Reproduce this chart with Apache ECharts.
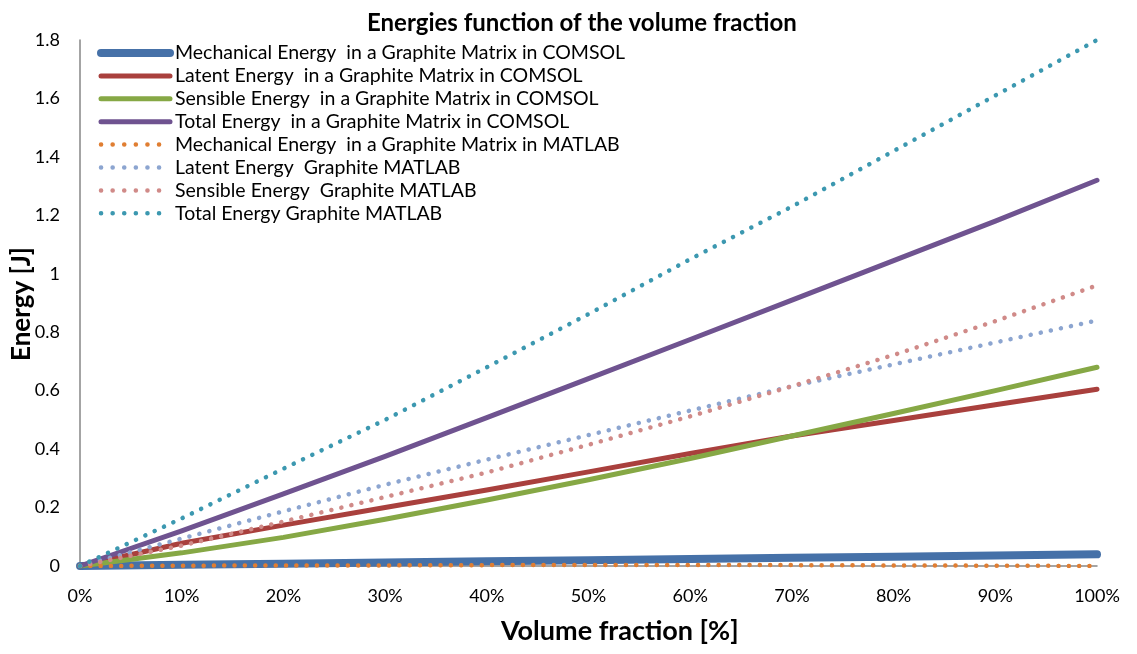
<!DOCTYPE html>
<html>
<head>
<meta charset="utf-8">
<script src="https://cdn.jsdelivr.net/npm/echarts@6/dist/echarts.min.js"></script>
<style>
  html, body { margin: 0; padding: 0; background: #fff; }
  #chart { width: 1137px; height: 654px; }
</style>
</head>
<body>
<div id="chart"></div>
<script>
// Volume fraction (0..1) shared by every series
const volumeFraction = [0, 0.1, 0.2, 0.3, 0.4, 0.5, 0.6, 0.7, 0.8, 0.9, 1.0];

// COMSOL results [J]
const mechComsol     = [0, 0.004, 0.008, 0.012, 0.016, 0.020, 0.024, 0.028, 0.032, 0.036, 0.040];
const latentComsol   = [0, 0.078, 0.140, 0.200, 0.260, 0.322, 0.385, 0.445, 0.498, 0.552, 0.605];
const sensibleComsol = [0, 0.045, 0.098, 0.160, 0.226, 0.295, 0.368, 0.445, 0.522, 0.600, 0.680];
const totalComsol    = [0, 0.120, 0.247, 0.375, 0.508, 0.641, 0.775, 0.910, 1.045, 1.180, 1.320];

// MATLAB results [J]
const mechMatlab     = [0, 0.001, 0.002, 0.002, 0.003, 0.003, 0.003, 0.003, 0.002, 0.001, 0.000];
const latentMatlab   = [0, 0.094, 0.187, 0.278, 0.364, 0.448, 0.532, 0.615, 0.690, 0.765, 0.840];
const sensibleMatlab = [0, 0.070, 0.152, 0.236, 0.320, 0.415, 0.512, 0.615, 0.722, 0.838, 0.960];
const totalMatlab    = [0, 0.163, 0.333, 0.500, 0.680, 0.862, 1.050, 1.230, 1.420, 1.610, 1.800];

const seriesNames = [
  'Mechanical Energy  in a Graphite Matrix in COMSOL',
  'Latent Energy  in a Graphite Matrix in COMSOL',
  'Sensible Energy  in a Graphite Matrix in COMSOL',
  'Total Energy  in a Graphite Matrix in COMSOL',
  'Mechanical Energy  in a Graphite Matrix in MATLAB',
  'Latent Energy  Graphite MATLAB',
  'Sensible Energy  Graphite MATLAB',
  'Total Energy Graphite MATLAB'
];
const seriesValues = [mechComsol, latentComsol, sensibleComsol, totalComsol,
                      mechMatlab, latentMatlab, sensibleMatlab, totalMatlab];
const seriesColors = ['#4671A8', '#A9403D', '#86A845', '#6F5390',
                      '#E07E32', '#8CA5D0', '#D08A88', '#3C98B0'];
const solidWidths = [8, 5, 5, 5];

const FONT = 'Lato, "Open Sans", sans-serif';

function isDotted(i) { return i >= 4; }

const series = seriesNames.map((name, i) => ({
  name: name,
  type: 'line',
  data: volumeFraction.map((x, k) => [x, seriesValues[i][k]]),
  symbol: 'none',
  showSymbol: false,
  color: seriesColors[i],
  lineStyle: isDotted(i)
    ? { color: seriesColors[i], width: 4.5, type: [0.1, 10.2], cap: 'round' }
    : { color: seriesColors[i], width: solidWidths[i], cap: 'round', join: 'round' },
  emphasis: { disabled: true },
  animation: false
}));

// legend keys: plain line samples, no marker
const legendData = seriesNames.map((name, i) => ({
  name: name,
  itemStyle: { opacity: 0, color: 'rgba(0,0,0,0)', borderWidth: 0 },
  lineStyle: isDotted(i)
    ? { color: seriesColors[i], width: 4.5, type: [0.1, 11.5], cap: 'round', opacity: 1 }
    : { color: seriesColors[i], width: solidWidths[i], type: 'solid', cap: 'round', opacity: 1 }
}));

const chart = echarts.init(document.getElementById('chart'), null, { renderer: 'canvas' });
chart.setOption({
  backgroundColor: '#ffffff',
  animation: false,
  title: {
    text: 'Energies function of the volume fraction',
    left: 362,
    top: 6,
    textStyle: { fontFamily: FONT, fontWeight: 'bold', fontSize: 24, color: '#000' }
  },
  grid: { left: 80, right: 40, top: 40, bottom: 88, containLabel: false },
  legend: {
    orient: 'vertical',
    left: 92,
    top: 38,
    itemWidth: 69,
    itemHeight: 14,
    itemGap: 2.9,
    selectedMode: false,
    textStyle: { fontFamily: FONT, fontSize: 19.5, color: '#000' },
    data: legendData
  },
  xAxis: {
    type: 'value',
    min: 0,
    max: 1,
    interval: 0.1,
    axisLine: { show: true, lineStyle: { color: '#868686', width: 1.5 } },
    axisTick: { show: false },
    splitLine: { show: false },
    axisLabel: {
      margin: 21,
      fontFamily: FONT,
      fontSize: 18,
      color: '#000',
      formatter: v => Math.round(v * 100) + '%'
    }
  },
  yAxis: {
    type: 'value',
    min: 0,
    max: 1.8,
    interval: 0.2,
    axisLine: { show: true, lineStyle: { color: '#868686', width: 1.5 } },
    axisTick: { show: false },
    splitLine: { show: false },
    axisLabel: {
      margin: 20,
      fontFamily: FONT,
      fontSize: 18,
      color: '#000',
      formatter: v => String(Math.round(v * 10) / 10)
    }
  },
  graphic: [
    {
      type: 'text',
      left: 501,
      top: 618,
      style: {
        text: 'Volume fraction [%]',
        fontFamily: FONT,
        fontWeight: 'bold',
        fontSize: 27,
        fill: '#000'
      }
    },
    {
      type: 'text',
      x: 22,
      y: 304,
      rotation: Math.PI / 2,
      style: {
        text: 'Energy [J]',
        fontFamily: FONT,
        fontWeight: 'bold',
        fontSize: 26,
        fill: '#000',
        align: 'center',
        verticalAlign: 'middle'
      }
    }
  ],
  series: series
});
</script>
</body>
</html>
